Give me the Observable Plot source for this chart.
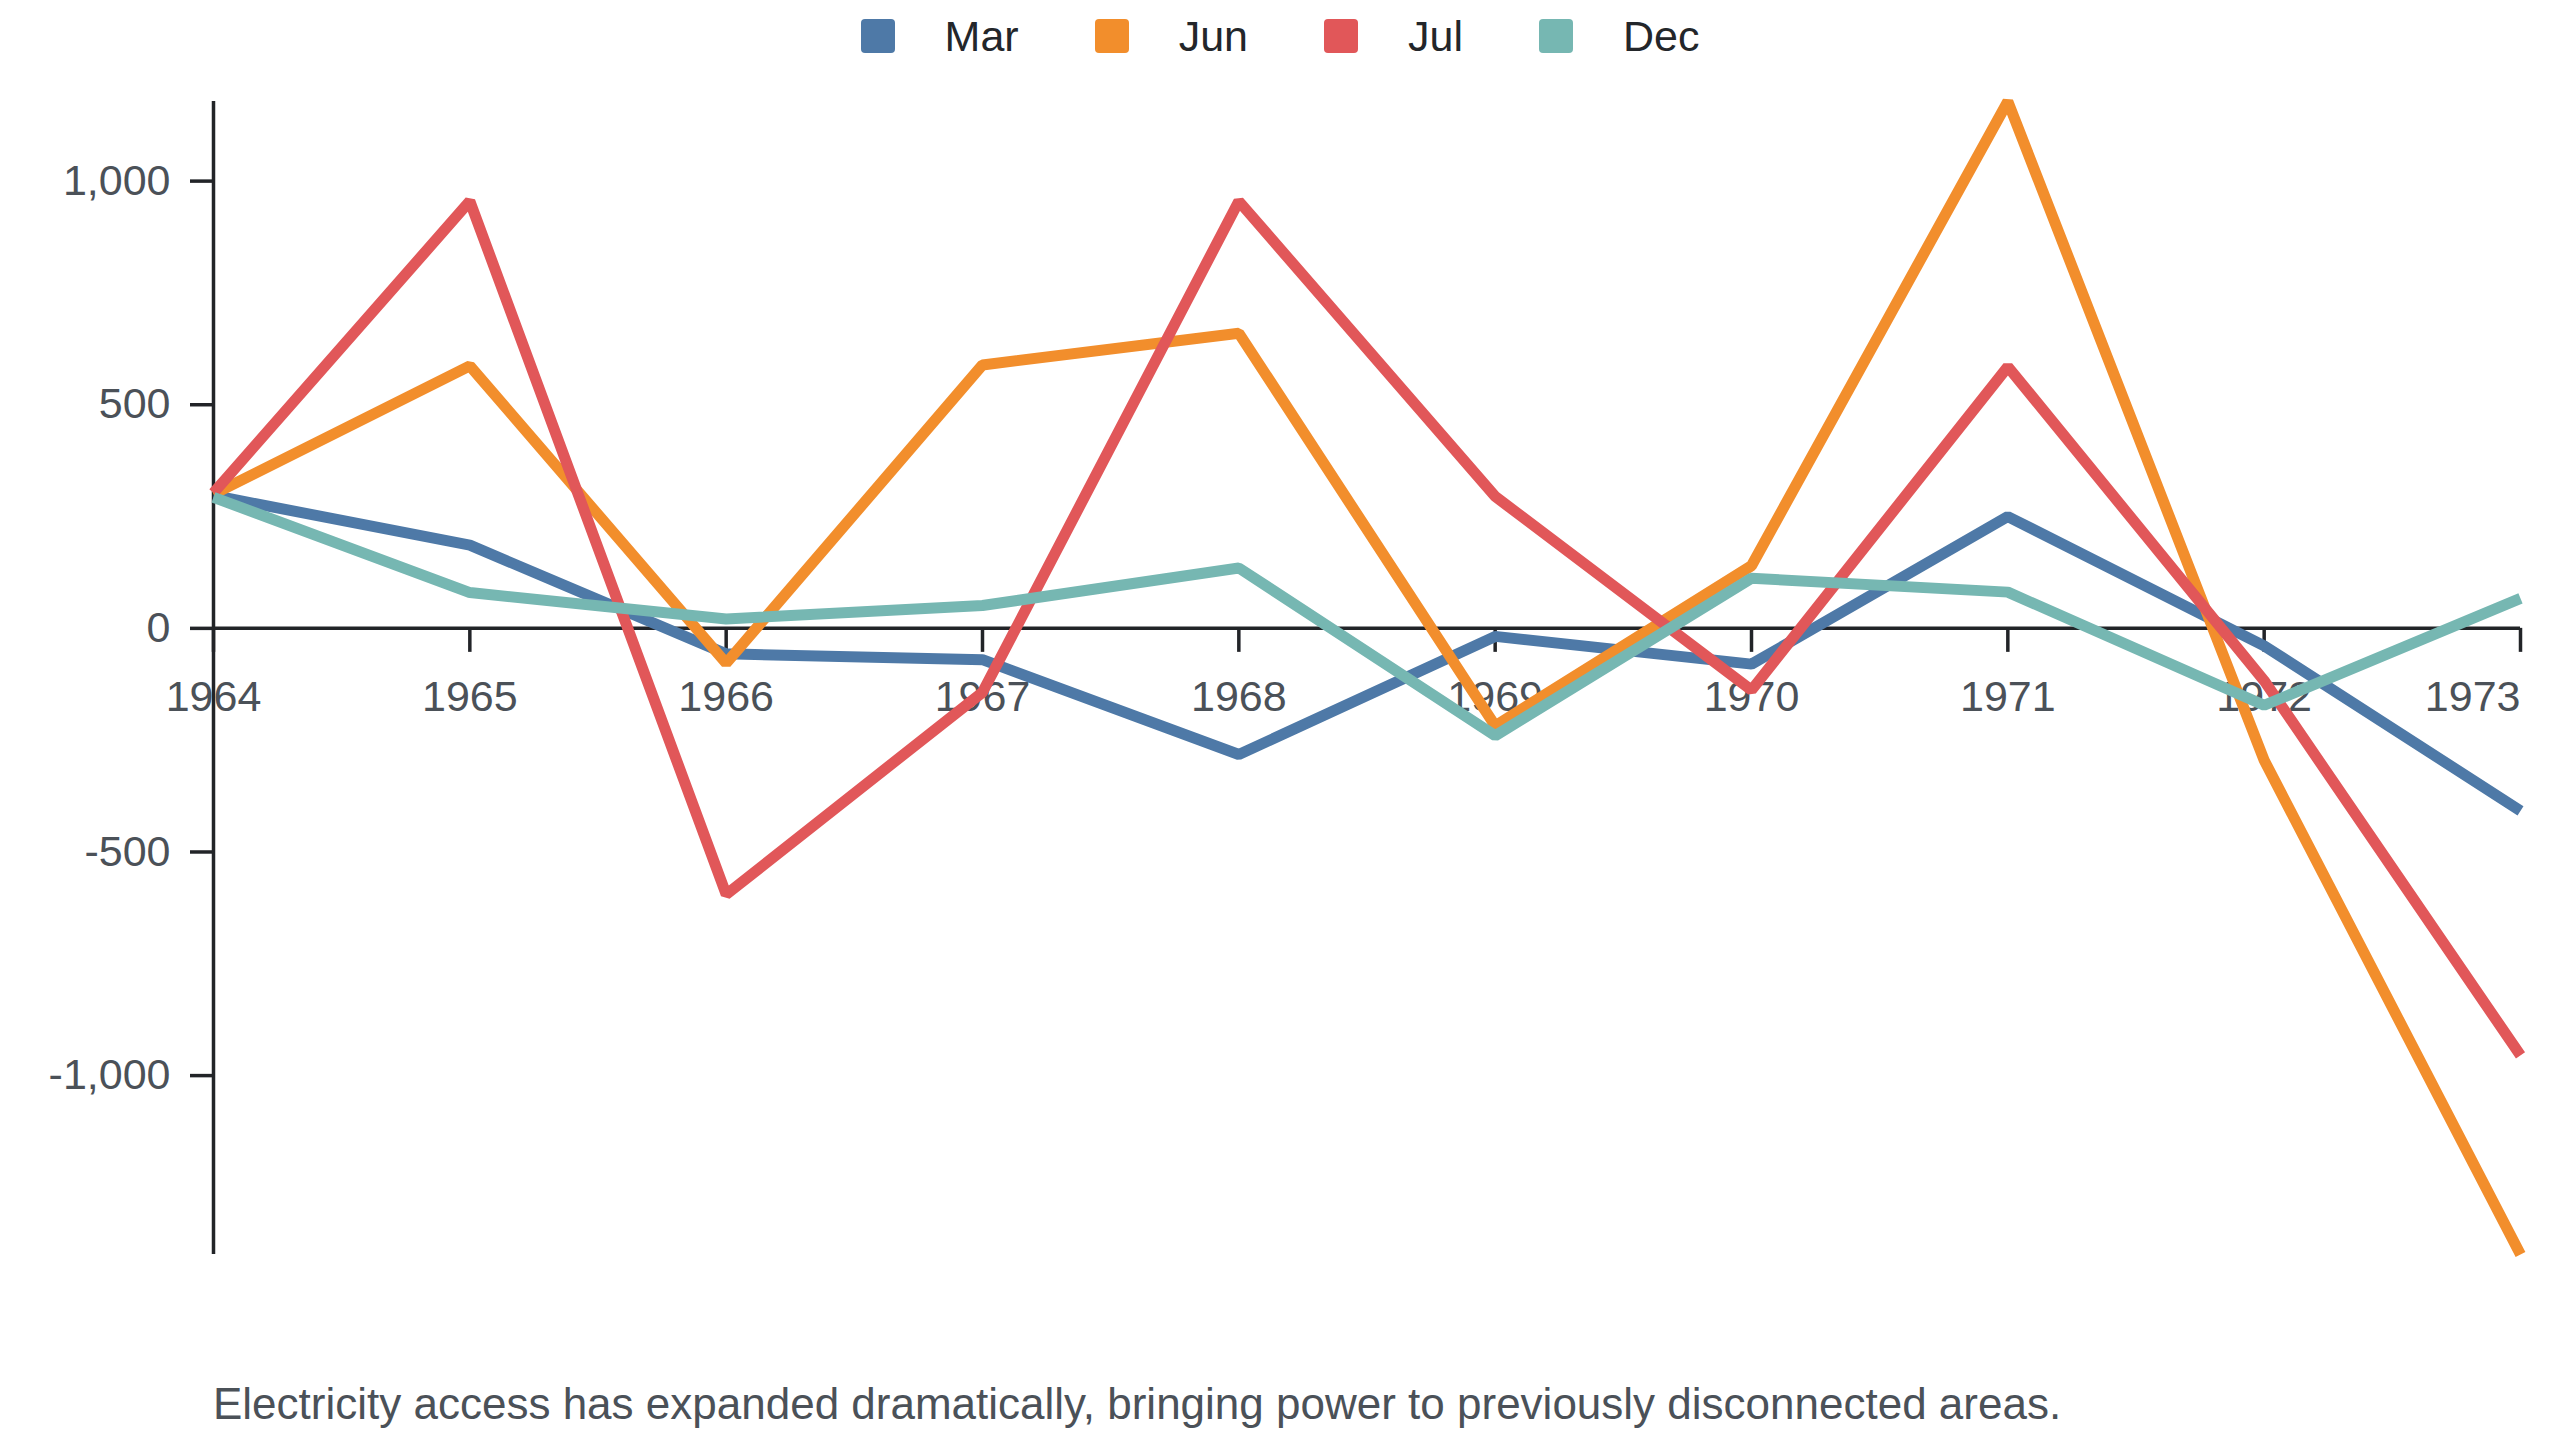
<!DOCTYPE html>
<html>
<head>
<meta charset="utf-8">
<script src="https://cdn.jsdelivr.net/npm/d3@7"></script>
<script src="https://cdn.jsdelivr.net/npm/@observablehq/plot@0.6"></script>
<style>
  html, body { margin: 0; padding: 0; background: #ffffff; }
  body { width: 2560px; height: 1440px; position: relative; overflow: hidden;
         font-family: "Liberation Sans", Arial, Helvetica, sans-serif; }
  #legend { position: absolute; left: 0; top: 0; width: 2560px; height: 72px;
            display: flex; justify-content: center; align-items: center; }
  .item { display: flex; align-items: center; margin: 0 38px; }
  .sw { width: 34px; height: 34px; border-radius: 4px; margin-right: 50px; }
  .lab { font-size: 43px; color: #23262a; }
  #chart { position: absolute; left: 0; top: 72px; }
  #caption { position: absolute; left: 213px; top: 1382px; font-size: 44px;
             line-height: 44px; color: #4b5158; white-space: nowrap; }
</style>
</head>
<body>
<div id="legend"></div>
<div id="chart"></div>
<div id="caption"></div>
<script>
const years = [1964, 1965, 1966, 1967, 1968, 1969, 1970, 1971, 1972, 1973];
const months = ["Mar", "Jun", "Jul", "Dec"];
const mar = [297, 186, -57, -70, -282, -18, -80, 250, -39, -408];
const jun = [300, 587, -78, 589, 660, -218, 140, 1178, -295, -1400];
const jul = [303, 955, -595, -143, 955, 295, -138, 585, -117, -955];
const dec = [293, 80, 21, 51, 135, -240, 112, 81, -172, 67];
const colors = ["#4e79a7", "#f28e2c", "#e15759", "#76b7b2"];
const yTicks = [-1000, -500, 0, 500, 1000];
const captionText = "Electricity access has expanded dramatically, bringing power to previously disconnected areas.";

const series = [mar, jun, jul, dec];
const data = [];
series.forEach((vals, i) => vals.forEach((v, j) => data.push({year: years[j], month: months[i], value: v})));

const fmt = d3.formatLocale({decimal: ".", thousands: ",", grouping: [3], currency: ["", ""], minus: "-"}).format(",");

const W = 2560, H = 1242, mT = 29, mB = 60, mL = 213, mR = 40;
const axisColor = "#222428", textColor = "#4b5158";

function build(dy) {
  return Plot.plot({
    width: W, height: H,
    marginTop: mT, marginBottom: mB, marginLeft: mL, marginRight: mR,
    style: {fontSize: "43px", fontFamily: "Liberation Sans, Arial, sans-serif", background: "#ffffff"},
    x: {type: "linear", domain: d3.extent(years), label: null},
    y: {domain: d3.extent(data, d => d.value), label: null},
    color: {domain: months, range: colors},
    marks: [
      Plot.axisY({ticks: yTicks, tickFormat: fmt, tickSize: 23, tickPadding: 20,
                  stroke: axisColor, fill: textColor, strokeWidth: 3.5, label: null}),
      Plot.axisX({anchor: "bottom", ticks: years.slice(0, -1), tickFormat: d => String(d),
                  tickSize: 24, tickPadding: 28, dy, stroke: axisColor, fill: textColor,
                  strokeWidth: 3.5, label: null}),
      Plot.axisX({anchor: "bottom", ticks: years.slice(-1), tickFormat: d => String(d),
                  tickSize: 24, tickPadding: 28, dy, textAnchor: "end", stroke: axisColor,
                  fill: textColor, strokeWidth: 3.5, label: null}),
      Plot.ruleX([years[0]], {stroke: axisColor, strokeWidth: 3.5}),
      Plot.ruleY([0], {stroke: axisColor, strokeWidth: 3.5}),
      Plot.line(data, {x: "year", y: "value", stroke: "month", z: "month",
                       strokeWidth: 11, strokeLinejoin: "miter", strokeLinecap: "butt"})
    ]
  });
}

const probe = build(0);
const y0 = probe.scale("y").apply(0);
const dy = y0 - (H - mB);
document.getElementById("chart").appendChild(build(dy));

const legend = document.getElementById("legend");
months.forEach((m, i) => {
  const it = document.createElement("div");
  it.className = "item";
  const sw = document.createElement("div");
  sw.className = "sw";
  sw.style.background = colors[i];
  const lab = document.createElement("span");
  lab.className = "lab";
  lab.textContent = m;
  it.appendChild(sw); it.appendChild(lab);
  legend.appendChild(it);
});
document.getElementById("caption").textContent = captionText;
</script>
</body>
</html>
